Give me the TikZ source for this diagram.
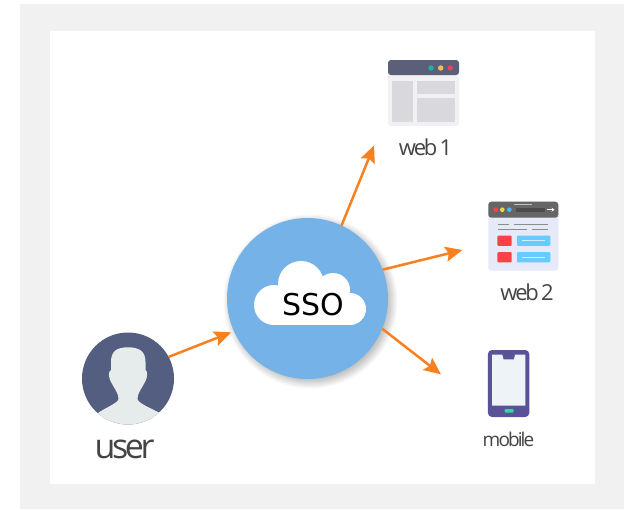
\documentclass[tikz,border=0pt]{standalone}
\usepackage{fontspec}
\usepackage{xcolor}
\usetikzlibrary{arrows.meta}
\newfontfamily\labelfont[LetterSpace=-10,WordSpace=0.6]{Open Sans}
\setmainfont{DejaVu Sans}
\definecolor{panelgray}{HTML}{F1F1F1}
\definecolor{ssoblue}{HTML}{74B2E7}
\definecolor{flowcolor}{HTML}{F8811F}
\definecolor{usernavy}{HTML}{535E80}
\definecolor{userface}{HTML}{E6ECEC}
\definecolor{labelcolor}{HTML}{444444}
\definecolor{barnavy}{HTML}{5B5F7A}
\definecolor{paneshade}{HTML}{D9D8DC}
\definecolor{pageblue}{HTML}{E6E9F8}
\definecolor{bargray}{HTML}{666666}
\definecolor{linkblue}{HTML}{66CCFF}
\definecolor{alertred}{HTML}{FB4249}
\definecolor{phoneblue}{HTML}{5A5296}
\definecolor{screenblue}{HTML}{EEF3F8}
\definecolor{buttongreen}{HTML}{2FD9A0}
\tikzset{
  flow/.style={draw=flowcolor,line width=2.5pt,-{Stealth[length=17pt,width=15pt,inset=3pt]}},
  iconbox/.style={rectangle,inner sep=0pt,outer sep=0pt,rounded corners=3pt},
  caption/.style={inner sep=0pt,text=labelcolor,font=\labelfont\fontsize{#1}{#1}\selectfont},
  bar/.style={line width=1.6pt,draw=black!45}
}
\begin{document}
\begin{tikzpicture}[x=1pt,y=-1pt]
  \useasboundingbox (0,0) rectangle (631,509);
  \fill[panelgray] (20,4) rectangle (624,509);
  \fill[white] (50,31) rectangle (595,484);
  % soft shadow of the centre circle
  \foreach \r in {87,86,...,76}
  	\fill[black,opacity=0.022] (310.5,301.5) circle [radius=\r pt];
  \node[circle,fill=ssoblue,minimum size=161pt,inner sep=0pt,outer sep=0pt] (sso) at (307.5,298.5) {};
  \fill[white] (274,305) circle [radius=20pt];
  \fill[white] (301,284) circle [radius=23pt];
  \fill[white] (333,290) circle [radius=17pt];
  \fill[white] (350,309) circle [radius=16pt];
  \fill[white] (274,295) rectangle (350,325);
  \node[inner sep=0pt,font=\fontsize{30}{30}\selectfont] (ssotext) at (313,304.5) {SSO};
  % user
  \node[circle,fill=usernavy,minimum size=92pt,inner sep=0pt,outer sep=0pt] (user) at (128,378.5) {};
  \begin{scope}
  	\clip (128,378.5) circle [radius=46pt];
  	\fill[userface] (111,362) .. controls (111,351) and (117,347.3) .. (128,347.3)
  	  .. controls (139,347.3) and (145.5,351) .. (145.5,362) -- (145.5,370)
  	  .. controls (148,371) and (147.5,378) .. (145,382)
  	  .. controls (142,388) and (137,394) .. (137.5,399)
  	  .. controls (138,403) and (150,408) .. (160,413) -- (170,440) -- (85,440) -- (98,413)
  	  .. controls (105,408) and (118,403) .. (118.5,399)
  	  .. controls (119,394) and (114,388) .. (111,382)
  	  .. controls (108.5,378) and (108,371) .. (111,370) -- cycle;
  \end{scope}
  \node[caption=34] (usertext) at (124.5,449) {user};
  % web 1
  \node[iconbox,fill=panelgray,minimum width=71pt,minimum height=66pt] (web1) at (423.5,93) {};
  \fill[barnavy,rounded corners=3pt] (388,75) -- (388,60) -- (459,60) -- (459,75) -- cycle;
  \foreach \x/\c in {431/1FB598,440.7/EFBE55,450.3/E8465A}{
  	\definecolor{dotcolor}{HTML}{\c}
  	\fill[dotcolor] (\x,68) circle [radius=2.7pt];
  }
  \fill[paneshade] (392.3,80.7) rectangle (412.7,121.7);
  \fill[paneshade] (416.7,80.7) rectangle (454.7,94);
  \fill[paneshade] (416.7,97.7) rectangle (454.7,121.7);
  \node[caption=22] (web1text) at (425.5,147.5) {web 1};
  % web 2
  \node[iconbox,fill=pageblue,minimum width=70pt,minimum height=69pt] (web2) at (523.3,236.2) {};
  \fill[bargray,rounded corners=3pt] (488.3,217.7) -- (488.3,201.7) -- (558.3,201.7) -- (558.3,217.7) -- cycle;
  \foreach \x/\c in {495.7/FB4249,502.3/F5D93A,509.3/4FB8F0}{
  	\definecolor{dotcolor}{HTML}{\c}
  	\fill[dotcolor] (\x,209.7) circle [radius=2.3pt];
  }
  \fill[black!70] (515.7,207.7) rectangle (545,211.7);
  \draw[white,line width=1pt,-{Stealth[length=3pt,width=4pt]}] (547,209.7) -- (554.5,209.7);
  \draw[white!60!bargray,line width=0.7pt] (514,204.3) -- (532,204.3);
  \draw[bar] (497.7,224.3) -- (509.3,224.3);
  \draw[bar] (514.3,224.3) -- (548,224.3);
  \draw[bar] (497.7,229.3) -- (526.7,229.3);
  \draw[bar] (532.3,229.3) -- (548,229.3);
  \foreach \y in {235.7,252.2}{
  	\fill[alertred,rounded corners=1pt] (497.3,\y) rectangle (511.7,\y+10.2);
  	\fill[linkblue,rounded corners=1pt] (517,\y) rectangle (550.3,\y+10.2);
  	\draw[white!70!linkblue,line width=1.2pt] (521.7,\y+5) -- (545.3,\y+5);
  }
  \node[caption=22] (web2text) at (527,292.5) {web 2};
  % mobile
  \node[iconbox,rounded corners=4pt,fill=phoneblue,minimum width=41.3pt,minimum height=67pt] (mobile) at (508.6,383.5) {};
  \fill[screenblue] (492,354.7) -- (502.3,354.7) -- (503.5,359.3) -- (514,359.3) -- (515,354.7) -- (525.3,354.7) -- (525.3,405.7) -- (492,405.7) -- cycle;
  \fill[buttongreen,rounded corners=1pt] (504.7,409) rectangle (513.7,412.7);
  \node[caption=19] (mobiletext) at (508.5,439.5) {mobile};
  % connectors
  \draw[flow,shorten >=3pt] (user.28) -- (sso.204);
  \draw[flow,shorten >=37pt] (sso.65) -- (web1.207.6);
  \draw[flow,shorten >=26.7pt] (sso.21.3) -- (web2.192.4);
  \draw[flow,shorten >=59.5pt] (sso.-22.6) -- (mobile.233.3);
\end{tikzpicture}
\end{document}
